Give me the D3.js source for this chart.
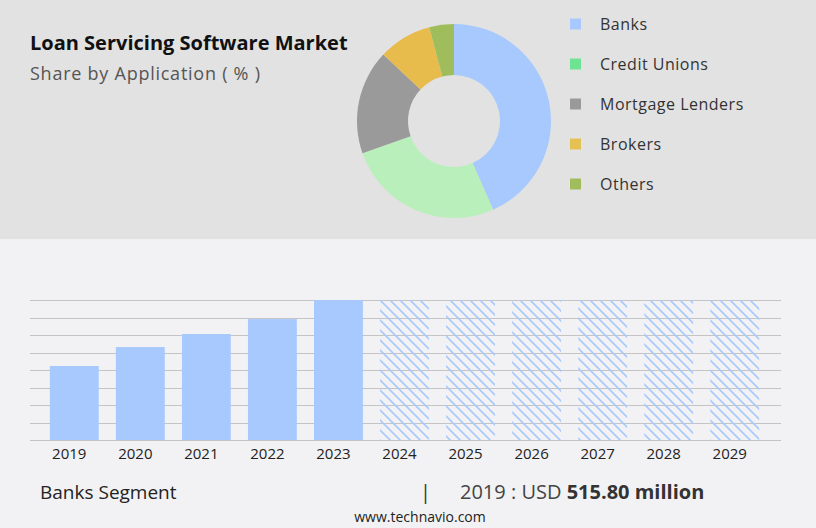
<!DOCTYPE html>
<html>
<head>
<meta charset="utf-8">
<script src="https://cdn.jsdelivr.net/npm/d3@7"></script>
<style>
  body { margin: 0; background: #f2f2f4; }
  svg { display: block; font-family: "Open Sans", sans-serif; }
</style>
</head>
<body>
<svg width="816" height="528"></svg>
<script>
// share by application (%)
var segments = ["Banks", "Credit Unions", "Mortgage Lenders", "Brokers", "Others"];
var shares = [43.4, 26.2, 17.4, 8.9, 4.1];
var sliceColors = ["#a8c9fd", "#b8efba", "#9a9a9a", "#e8bb4d", "#9fbd5a"];
var legendColors = ["#a8c9fd", "#6fe394", "#9a9a9a", "#e3c253", "#9fbd5a"];

// banks segment size, USD million
var years = ["2019", "2020", "2021", "2022", "2023"];
var values = [515.8, 648, 739, 843, 976];
var forecastYears = ["2024", "2025", "2026", "2027", "2028", "2029"];

var svg = d3.select("svg"),
    width = +svg.attr("width"),
    height = +svg.attr("height");

// backgrounds
svg.append("rect").attr("width", width).attr("height", height).attr("fill", "#f2f2f4");
svg.append("rect").attr("width", width).attr("height", 239).attr("fill", "#e2e2e2");

// titles
svg.append("text")
    .attr("x", 30).attr("y", 50)
    .style("font-size", "20px").style("font-weight", "bold").style("fill", "#111")
    .text("Loan Servicing Software Market");
svg.append("text")
    .attr("x", 30).attr("y", 80)
    .style("font-size", "18px").style("letter-spacing", "0.75px").style("fill", "#555")
    .text("Share by Application ( % )");

// donut
var pie = d3.pie().sort(null).value(function(d) { return d; });
var arc = d3.arc().innerRadius(46).outerRadius(97);

svg.append("g")
    .attr("transform", "translate(454,121)")
  .selectAll("path")
  .data(pie(shares))
  .enter().append("path")
    .attr("d", arc)
    .attr("fill", function(d, i) { return sliceColors[i]; });

// legend
var legend = svg.selectAll(".legend")
  .data(segments)
  .enter().append("g")
    .attr("class", "legend")
    .attr("transform", function(d, i) { return "translate(570," + (24 + i * 40) + ")"; });

legend.append("rect")
    .attr("y", -5.5).attr("width", 11).attr("height", 11)
    .attr("fill", function(d, i) { return legendColors[i]; });

legend.append("text")
    .attr("x", 30).attr("dy", "0.35em")
    .style("font-size", "16px").style("letter-spacing", "0.5px").style("fill", "#333")
    .text(function(d) { return d; });

// bar chart
var allYears = years.concat(forecastYears);
var yMax = d3.max(values);

var x = d3.scaleBand()
    .domain(allYears)
    .range([30, 779])
    .paddingInner(0.26)
    .paddingOuter(0.3);

var y = d3.scaleLinear()
    .domain([0, yMax])
    .range([440, 300]);

var defs = svg.append("defs");
defs.append("pattern")
    .attr("id", "hatch")
    .attr("patternUnits", "userSpaceOnUse")
    .attr("width", 10).attr("height", 10)
  .append("path")
    .attr("d", "M0,0L10,10M-5,5L5,15M5,-5L15,5")
    .attr("stroke", "#a8c9fd")
    .attr("stroke-width", 1.6);

// gridlines
svg.append("g")
  .selectAll("line")
  .data(d3.range(9).map(function(i) { return yMax * i / 8; }))
  .enter().append("line")
    .attr("x1", 30).attr("x2", 781)
    .attr("y1", function(d) { return Math.round(y(d)) + 0.5; })
    .attr("y2", function(d) { return Math.round(y(d)) + 0.5; })
    .attr("stroke", "#c4c4c4");

svg.append("g")
  .selectAll("rect")
  .data(values)
  .enter().append("rect")
    .attr("x", function(d, i) { return x(years[i]); })
    .attr("y", function(d) { return y(d); })
    .attr("width", x.bandwidth())
    .attr("height", function(d) { return y(0) - y(d); })
    .attr("fill", "#a8c9fd");

svg.append("g")
  .selectAll("rect")
  .data(forecastYears)
  .enter().append("rect")
    .attr("x", function(d) { return x(d); })
    .attr("y", y(yMax))
    .attr("width", x.bandwidth())
    .attr("height", y(0) - y(yMax))
    .attr("fill", "url(#hatch)");

// labels sit a little left of the bar centres, as in the original
var xAxis = svg.append("g")
    .attr("transform", "translate(-5,440)")
    .call(d3.axisBottom(x).tickSize(0).tickPadding(8));
xAxis.select(".domain").remove();
xAxis.selectAll("text")
    .style("font-family", "'Open Sans', sans-serif")
    .style("font-size", "15px")
    .style("fill", "#222");

// footer
svg.append("text")
    .attr("x", 40).attr("y", 499)
    .style("font-size", "19px").style("fill", "#222")
    .text("Banks Segment");
svg.append("text")
    .attr("x", 420).attr("y", 499)
    .style("font-size", "20px").style("fill", "#333")
    .text("|");
var stat = svg.append("text")
    .attr("x", 460).attr("y", 499)
    .style("font-size", "20px").style("fill", "#444");
stat.append("tspan").text("2019 : USD ");
stat.append("tspan").style("font-weight", "bold").style("fill", "#333").text("515.80 million");

svg.append("text")
    .attr("x", 420).attr("y", 522)
    .attr("text-anchor", "middle")
    .style("font-size", "14px").style("fill", "#222")
    .text("www.technavio.com");
</script>
</body>
</html>
